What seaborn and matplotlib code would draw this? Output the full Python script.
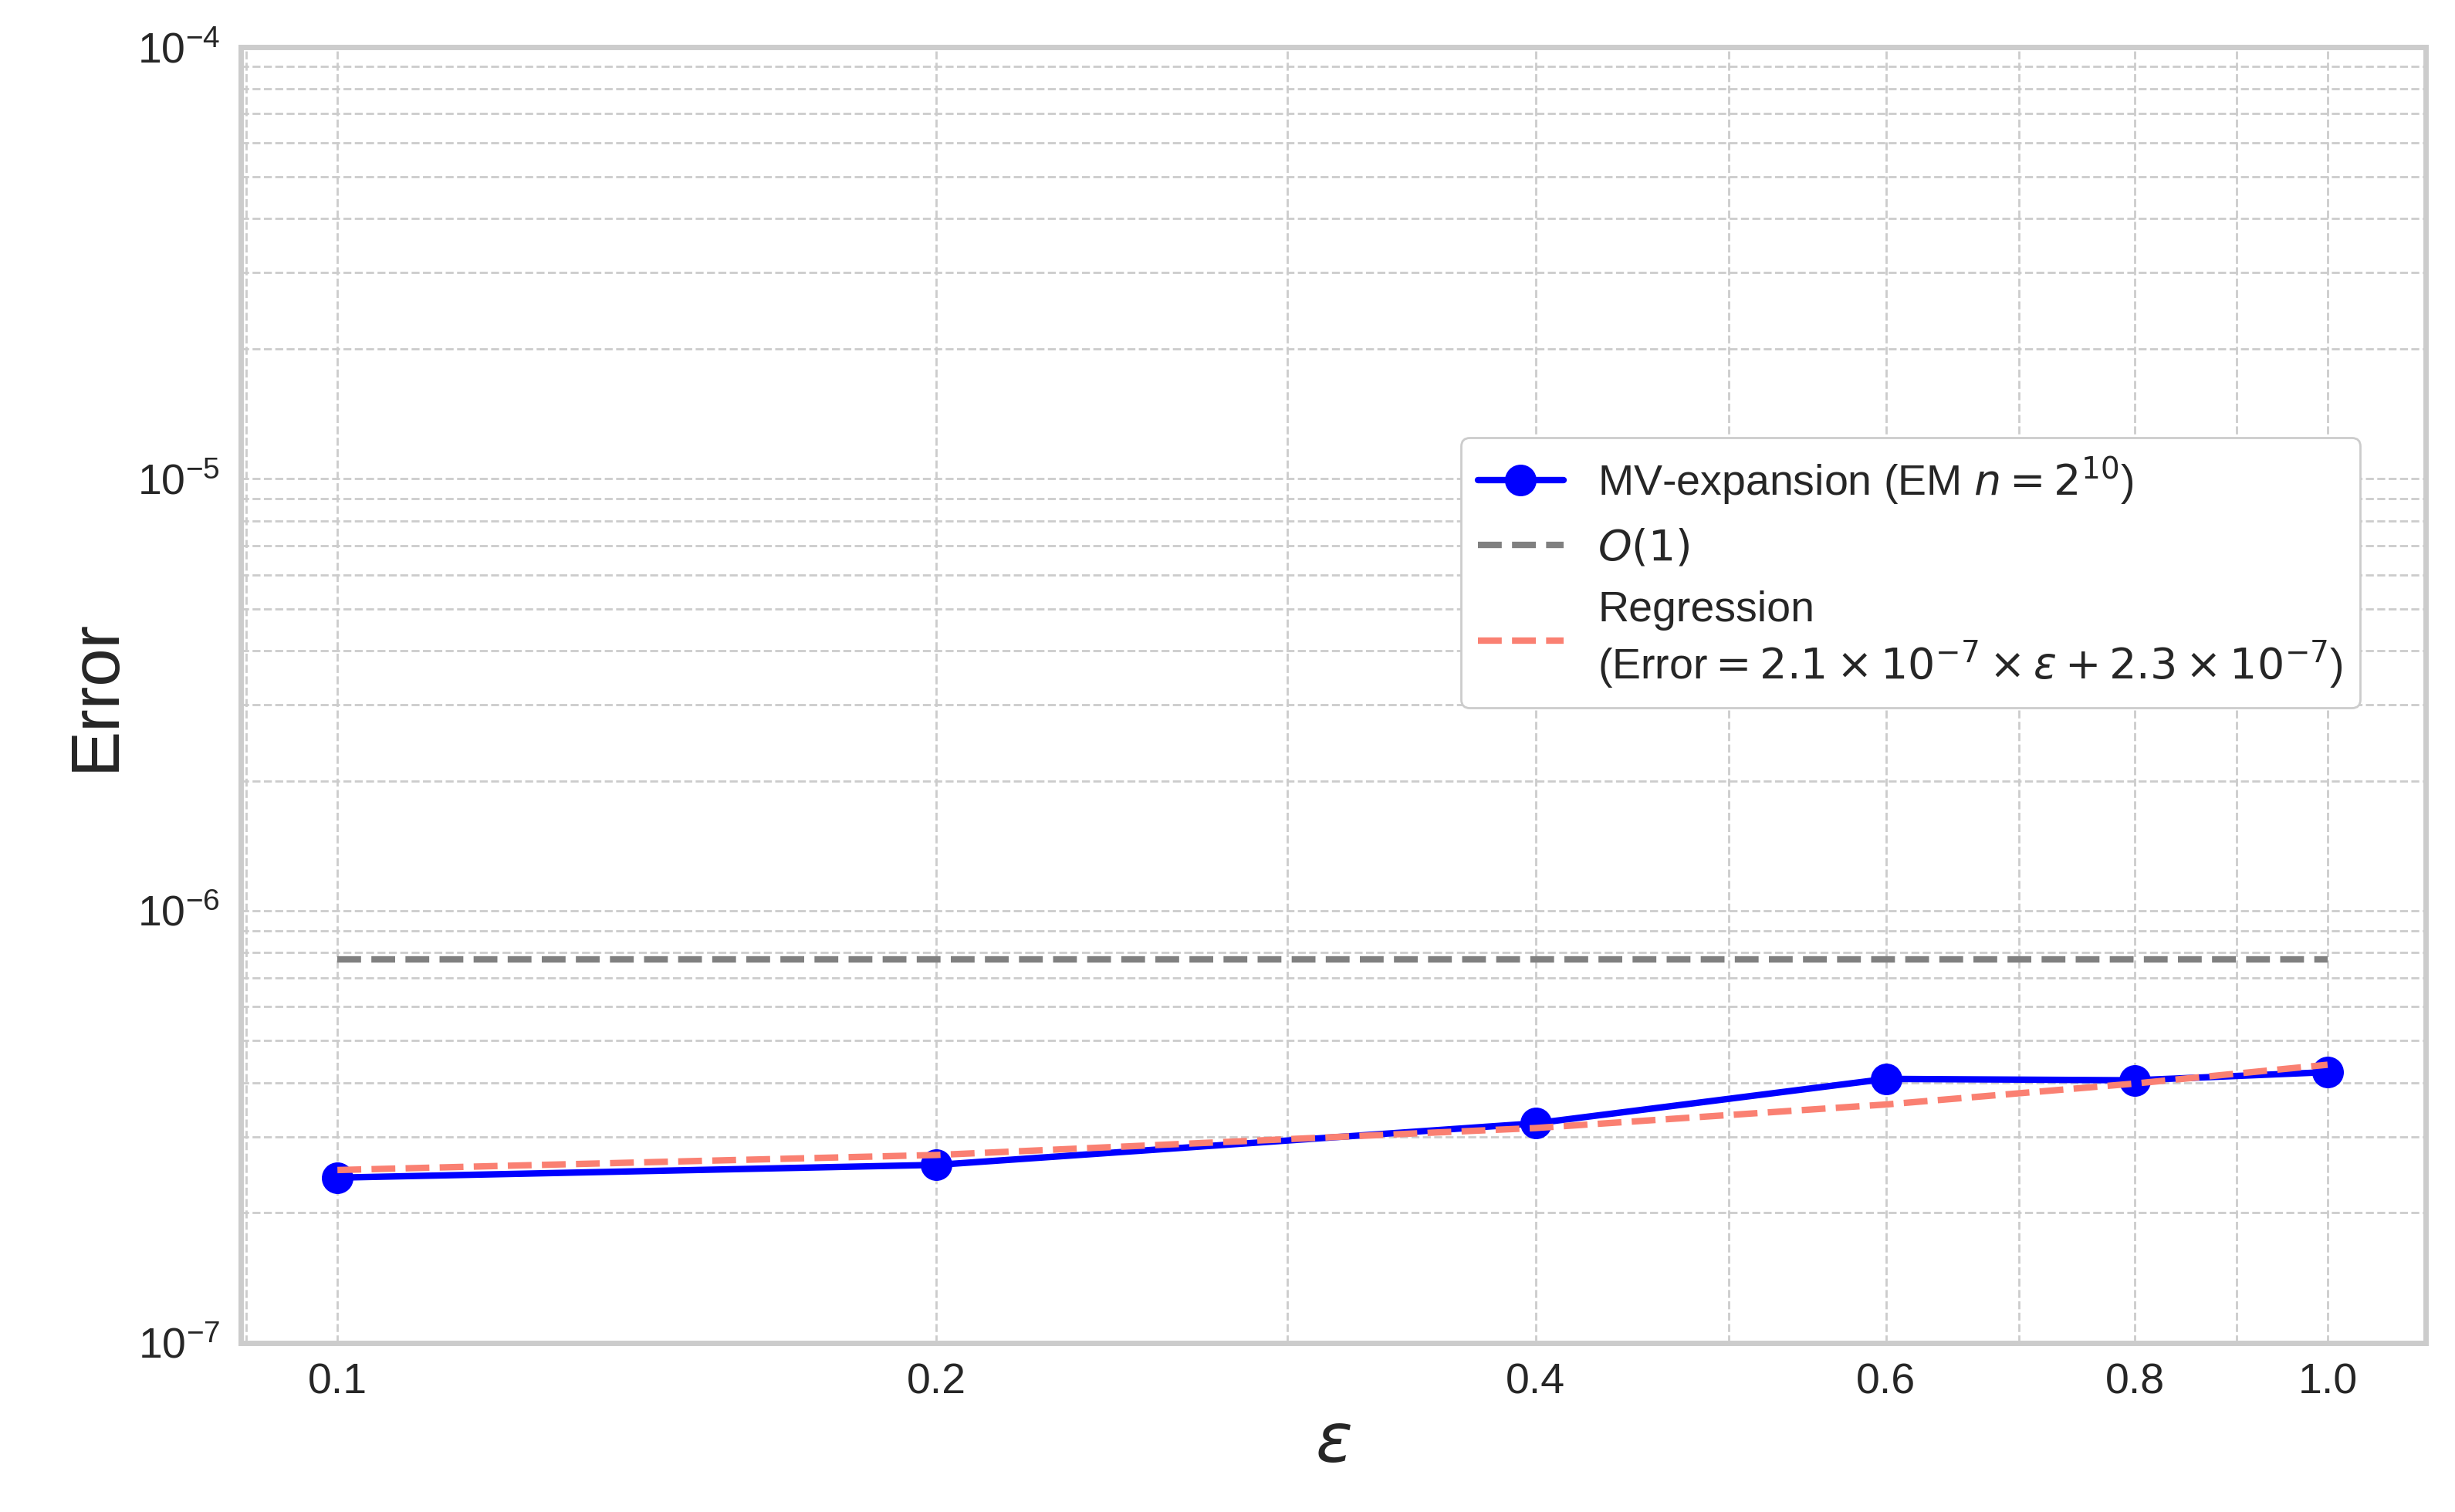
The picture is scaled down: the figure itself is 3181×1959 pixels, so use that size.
import numpy as np
import matplotlib
matplotlib.use("Agg")
import matplotlib.pyplot as plt
import seaborn as sns
from matplotlib.ticker import FixedLocator, FixedFormatter, NullFormatter, LogLocator

eps = [0.1, 0.2, 0.4, 0.6, 0.8, 1.0]
err = [2.41e-7, 2.58e-7, 3.22e-7, 4.08e-7, 4.05e-7, 4.23e-7]
o1_level = [7.7e-7] * len(eps)
reg_slope, reg_int = 2.1e-7, 2.3e-7
reg = [reg_slope * e + reg_int for e in eps]
xtick_labels = ["0.1", "0.2", "0.4", "0.6", "0.8", "1.0"]

sns.set_theme(style="whitegrid")
plt.rcParams['font.family'] = ['Liberation Sans', 'DejaVu Sans']
plt.rcParams['mathtext.fontset'] = 'dejavusans'

fig = plt.figure(figsize=(15.905, 9.795), dpi=200)
ax = fig.add_axes([0.098, 0.112, 0.89, 0.857])

sns.lineplot(x=eps, y=err, ax=ax, color='blue', marker='o', markersize=14, lw=3,
             markeredgecolor='blue', label=r'MV-expansion (EM $n=2^{10}$)')
sns.lineplot(x=eps, y=o1_level, ax=ax, color='gray', lw=3, linestyle='--', label=r'$O(1)$')
sns.lineplot(x=eps, y=reg, ax=ax, color='salmon', lw=3, linestyle='--',
             label='Regression\n' + r'(Error$=2.1\times10^{-7}\times\varepsilon+2.3\times10^{-7}$)')

ax.set_xscale('log'); ax.set_yscale('log')
ax.set_xlim(0.0894, 1.12); ax.set_ylim(1e-7, 1e-4)
ax.xaxis.set_major_locator(FixedLocator(eps))
ax.xaxis.set_major_formatter(FixedFormatter(xtick_labels))
ax.xaxis.set_minor_locator(LogLocator(base=10, subs=np.arange(1, 10)))
ax.xaxis.set_minor_formatter(NullFormatter())
ax.yaxis.set_major_locator(LogLocator(base=10))
ax.yaxis.set_minor_locator(LogLocator(base=10, subs=np.arange(2, 10)))
ax.yaxis.set_minor_formatter(NullFormatter())
ax.grid(True, which='both', linestyle='--', linewidth=1.0, color='#cccccc')
ax.tick_params(labelsize=20)
for s in ax.spines.values():
    s.set_color('#cccccc'); s.set_linewidth(2.5)
ax.set_xlabel(r'$\varepsilon$', fontsize=32)
ax.set_ylabel('Error', fontsize=32)
ax.legend(loc='upper right', bbox_to_anchor=(0.98, 0.715), fontsize=20, framealpha=1,
          edgecolor='#cccccc')
fig.savefig('out.png', dpi=200)
